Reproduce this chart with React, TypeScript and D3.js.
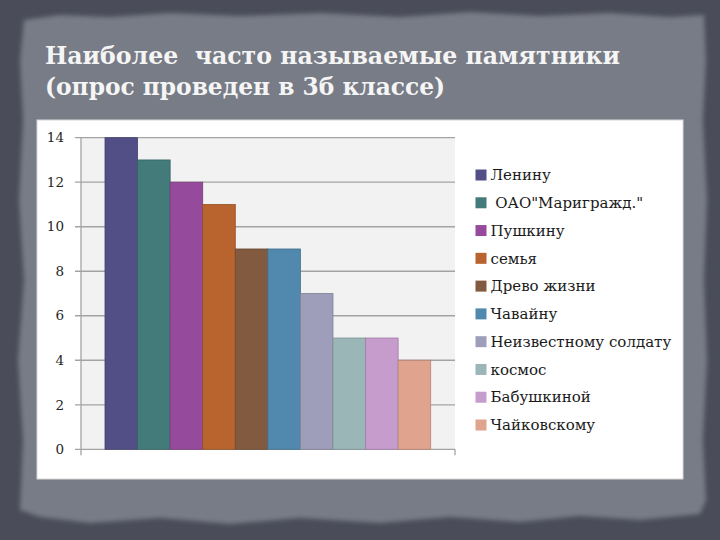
import React from "react";
import * as d3 from "d3";

const categories = [
  "Ленину",
  " ОАО\"Мариграж\u0434.\"",
  "Пушкину",
  "семья",
  "Древо жизни",
  "Чавайну",
  "Неизвестному солдату",
  "космос",
  "Бабушкиной",
  "Чайковскому",
];
const values = [14, 13, 12, 11, 9, 9, 7, 5, 5, 4];
const colors = [
  "#524f87",
  "#437b7b",
  "#964a9b",
  "#b9632f",
  "#825a3f",
  "#5089ad",
  "#9e9ebb",
  "#9bb6b7",
  "#c59ccb",
  "#e0a38d",
];
const yTicks = [0, 2, 4, 6, 8, 10, 12, 14];
const titleLines = ["Наиболее  часто называемые памятники", "(опрос проведен в 3б классе)"];

const SERIF = "DejaVu Serif";

export default function App() {
  const W = 720;
  const H = 540;
  const plotL = 81;
  const plotR = 455;
  const plotT = 137.7;
  const plotB = 449.3;
  const y = d3.scaleLinear().domain([0, 14]).range([plotB, plotT]);
  const x = d3
    .scaleBand<number>()
    .domain(d3.range(values.length))
    .range([105, 430.7])
    .padding(0);
  const legendY = d3
    .scaleLinear()
    .domain([0, categories.length - 1])
    .range([175, 425]);

  const paper =
    "M24,20 L60,15 L110,17 L170,13 L240,16 L320,13 L400,17 L470,12 L540,16 L610,13 L670,17 L704,15 " +
    "L706,60 L703,120 L707,200 L704,280 L707,360 L703,440 L706,500 L700,514 " +
    "L640,520 L580,516 L520,522 L450,517 L380,523 L300,518 L230,524 L160,518 L90,523 L40,517 L20,510 " +
    "L23,440 L18,360 L24,280 L19,200 L23,120 L20,60 Z";

  return (
    <svg
      width={W}
      height={H}
      style={{ position: "absolute", left: 0, top: 0 }}
      xmlns="http://www.w3.org/2000/svg"
    >
      <defs>
        <filter id="soft" x="-5%" y="-5%" width="110%" height="110%">
          <feGaussianBlur stdDeviation="2" />
        </filter>
      </defs>
      <rect x={0} y={0} width={W} height={H} fill="#4a4d59" />
      <path d={paper} fill="#787b86" filter="url(#soft)" />

      {titleLines.map((t, i) => (
        <text
          key={i}
          x={45}
          y={64 + i * 31}
          fill="#f5f5f5"
          fontFamily={SERIF}
          fontWeight="bold"
          fontSize={25}
          style={{ whiteSpace: "pre" }}
          textLength={i === 0 ? 575 : 400}
          lengthAdjust="spacingAndGlyphs"
        >
          {t}
        </text>
      ))}

      <rect x={37} y={120} width={646} height={359} fill="#ffffff" stroke="#d8d8d8" strokeWidth={1} />

      <rect x={plotL} y={plotT} width={plotR - plotL} height={plotB - plotT} fill="#f2f2f2" />

      {yTicks.map((t) => (
        <g key={t}>
          <line x1={75} x2={plotR} y1={y(t)} y2={y(t)} stroke="#a3a3a3" strokeWidth={1.3} />
          <text
            x={64}
            y={y(t)}
            dy="0.35em"
            textAnchor="end"
            fill="#262626"
            fontFamily={SERIF}
            fontSize={13.5}
          >
            {t}
          </text>
        </g>
      ))}
      <line x1={plotL} x2={plotL} y1={plotT} y2={plotB + 6} stroke="#a3a3a3" strokeWidth={1.3} />
      <line x1={plotR} x2={plotR} y1={plotB} y2={plotB + 6} stroke="#a3a3a3" strokeWidth={1.3} />

      {values.map((v, i) => (
        <rect
          key={i}
          x={x(i)}
          y={y(v)}
          width={x.bandwidth()}
          height={y(0) - y(v)}
          fill={colors[i]}
          stroke={d3.color(colors[i])!.darker(0.6).formatHex()}
          strokeWidth={0.8}
        />
      ))}

      {categories.map((c, i) => (
        <g key={i}>
          <rect x={475.5} y={legendY(i) - 5.5} width={11} height={11} fill={colors[i]} />
          <text
            x={490.5}
            y={legendY(i)}
            dy="0.35em"
            fill="#1a1a1a"
            fontFamily={SERIF}
            fontSize={15}
            style={{ whiteSpace: "pre" }}
          >
            {c}
          </text>
        </g>
      ))}
    </svg>
  );
}
